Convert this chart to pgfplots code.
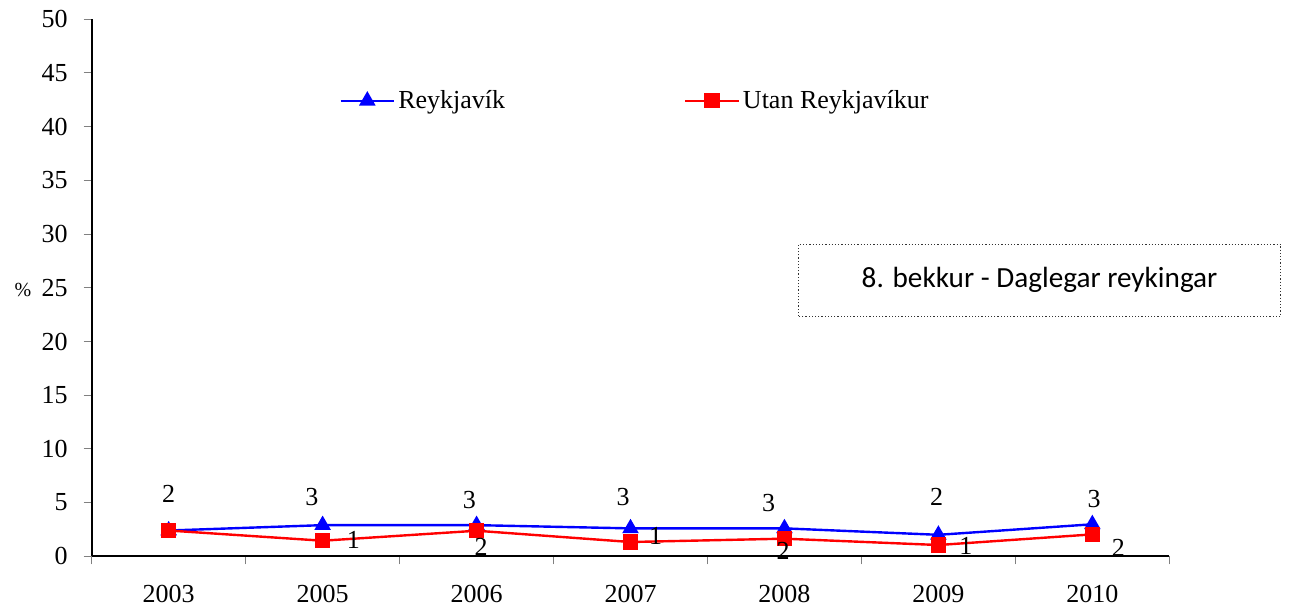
\documentclass[border=0pt]{standalone}
\usepackage{fontspec}
\setmainfont{Liberation Serif}
\newfontfamily\calibri{Carlito}
\usepackage{pgfplots}
\pgfplotsset{compat=1.18}
\usepackage{pgfplotstable}
\pgfplotstableread{
x y lab dx dy
0 2.40 2 0 18.5
1 2.90 3 -5.4 14.2
2 2.90 3 -3.6 12.5
3 2.60 3 -3.75 15.8
4 2.60 3 -7.9 12.8
5 2.00 2 -0.85 18.8
6 2.98 3 0.85 12.5
}\reyk
\pgfplotstableread{
x y lab dx dy
0 2.40 {} 0 0
1 1.45 1 15.35 0.35
2 2.38 2 2.25 -8
3 1.33 1 12.55 3
4 1.64 2 -0.7 -6
5 1.05 1 13.8 -0.5
6 2.04 2 13 -7
}\utan
\begin{document}
\begin{tikzpicture}
\begin{axis}[
  scale only axis,
  width=538.8pt, height=268.5pt,
  xmin=-0.5, xmax=6.5, ymin=0, ymax=50,
  axis lines=left,
  axis line style={-, line width=0.8pt},
  xtick={-0.5,0.5,...,6.5},
  x tick label as interval,
  xticklabels={2003,2005,2006,2007,2008,2009,2010},
  ytick={0,5,...,50},
  tick align=outside,
  major tick length=4pt,
  tick style={gray, line width=0.5pt},
  ticklabel style={font=\fontsize{13}{15}\selectfont},
  /pgf/number format/assume math mode=true,
  xticklabel style={yshift=-7pt},
  yticklabel style={xshift=-4.5pt},
  clip=false,
  legend columns=2,
  legend style={draw=none, fill=none, at={(0.2296,0.8484)}, anchor=west,
    inner sep=0pt, font=\fontsize{13}{15}\selectfont,
    nodes={inner sep=1.5pt},
    /tikz/every even column/.append style={column sep=88pt}},
  legend image code/.code={\draw[mark repeat=2,mark phase=2,#1] plot coordinates {(0pt,0pt) (13.3pt,0pt) (26.7pt,0pt)};},
  nodes near coords={\pgfplotspointmeta},
  point meta=explicit symbolic,
  visualization depends on={\thisrow{dx}\as\dx},
  visualization depends on={\thisrow{dy}\as\dy},
  every node near coord/.style={anchor=center, xshift=\dx pt, yshift=\dy pt, font=\fontsize{13}{15}\selectfont, text=black},
]
\addplot[blue, line width=1.2pt, mark=triangle*, mark size=3.6pt, mark options={solid}] table[x=x, y=y, meta=lab] {\reyk};
\addlegendentry{Reykjavík}
\addplot[red, line width=1.2pt, mark=square*, mark size=3.2pt, mark options={solid}] table[x=x, y=y, meta=lab] {\utan};
\addlegendentry{Utan Reykjavíkur}
\end{axis}
\node[font=\fontsize{10}{12}\selectfont] at (-34.35pt,133.2pt) {\%};
\draw[densely dotted, line width=0.6pt, black!80] (353.2pt,120pt) rectangle (594.5pt,156pt);
\node[font=\calibri\fontsize{14.6}{17}\selectfont] at (473.9pt,138.2pt) {8. bekkur - Daglegar reykingar};
\pgfresetboundingbox
\path (-45.85pt,-28.35pt) rectangle (598.65pt,278.15pt);
\end{tikzpicture}
\end{document}
